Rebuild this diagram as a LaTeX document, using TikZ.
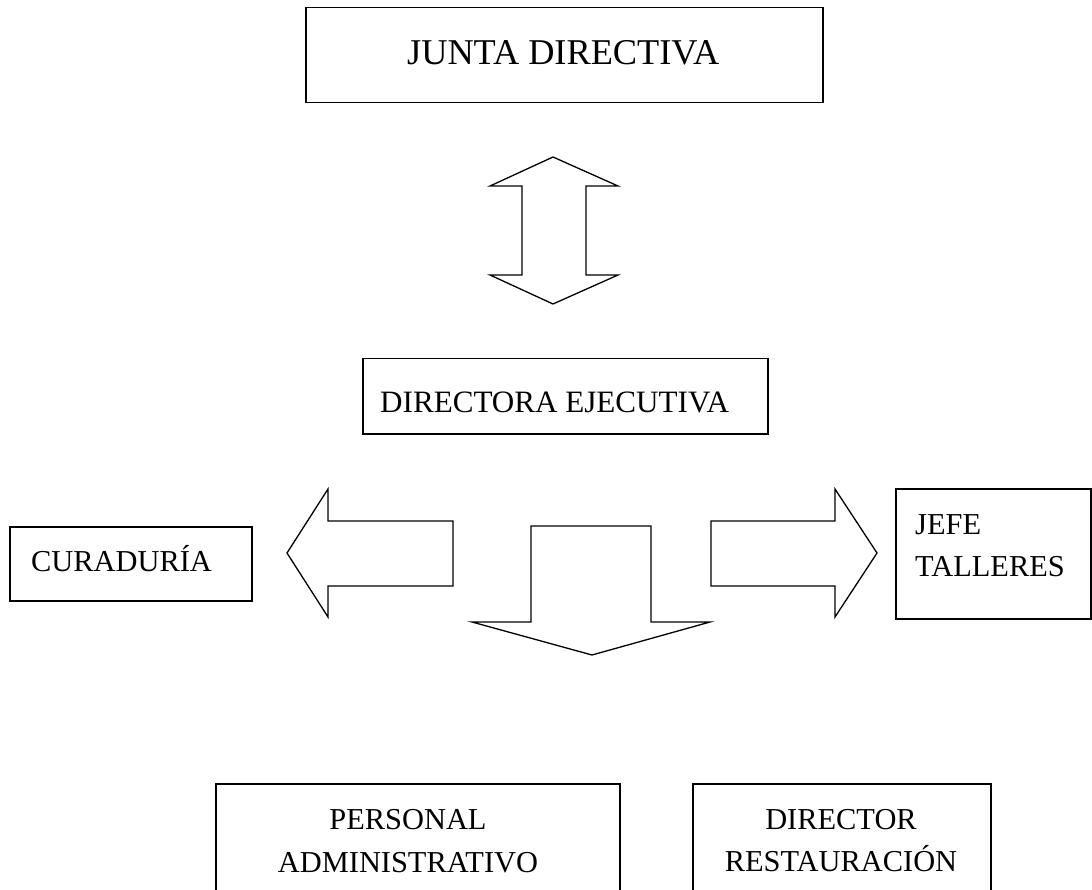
\documentclass[tikz,border=0pt]{standalone}
\usepackage{fontspec}
\setmainfont{Liberation Serif}
\begin{document}
\begin{tikzpicture}[x=1pt,y=-1pt,
  orgbox/.style={draw=black, line width=1.5pt, inner sep=0pt, anchor=north west},
  blockarrow/.style={draw=black, line width=1.3pt, line join=miter, fill=white},
  lbl/.style={font=\fontsize{30.4}{42}\selectfont, inner sep=0pt, anchor=base west},
  clbl/.style={lbl, anchor=base}]
\useasboundingbox (0,0) rectangle (1092,890);
\clip (0,0) rectangle (1092,890);

% boxes
\node[orgbox, minimum width=517pt, minimum height=95pt] (junta) at (305,7) {};
\node[orgbox, minimum width=405pt, minimum height=75pt] (dir) at (362,358) {};
\node[orgbox, minimum width=242pt, minimum height=74pt] (cur) at (9,526) {};
\node[orgbox, minimum width=195pt, minimum height=130pt] (jefe) at (895,488) {};
\node[orgbox, minimum width=404pt, minimum height=130pt] (pers) at (215,783) {};
\node[orgbox, minimum width=298pt, minimum height=130pt] (rest) at (692,783) {};

% labels
\node[lbl, font=\fontsize{36.3}{44}\selectfont] (tjunta) at (407,65) {JUNTA DIRECTIVA};
\node[lbl, font=\fontsize{31.1}{42}\selectfont] (tdir) at (380,412) {DIRECTORA EJECUTIVA};
\node[lbl] (tcur) at (31,571) {CURADURÍA};
\node[lbl] (tjefe1) at (915,534) {JEFE};
\node[lbl] (tjefe2) at (915,576) {TALLERES};
\node[clbl] (tpers1) at (408,829) {PERSONAL};
\node[clbl] (tpers2) at (408,872) {ADMINISTRATIVO};
\node[clbl] (trest1) at (841,829) {DIRECTOR};
\node[clbl] (trest2) at (841,871) {RESTAURACIÓN};

% up-down block arrow between the board and the executive director
\draw[blockarrow] (553,157) -- (618,186) -- (586,186) -- (586,275) -- (618,275)
  -- (553,304) -- (490,275) -- (522,275) -- (522,186) -- (490,186) -- cycle;
% left block arrow
\draw[blockarrow] (287,553) -- (328,489) -- (328,521) -- (453,521) -- (453,586)
  -- (328,586) -- (328,617) -- cycle;
% down block arrow
\draw[blockarrow] (531,526) -- (651,526) -- (651,622) -- (710,622) -- (592,655)
  -- (472,622) -- (531,622) -- cycle;
% right block arrow
\draw[blockarrow] (711,521) -- (835,521) -- (835,489) -- (877,553) -- (835,617)
  -- (835,586) -- (711,586) -- cycle;
\end{tikzpicture}
\end{document}
